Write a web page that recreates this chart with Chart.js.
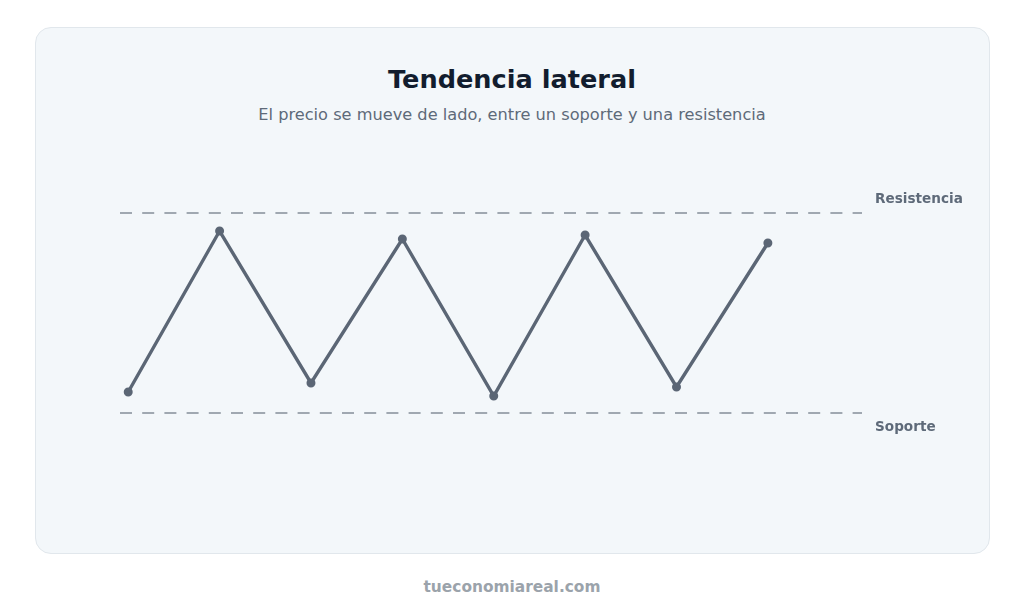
<!DOCTYPE html>
<html lang="es">
<head>
<meta charset="utf-8">
<title>Tendencia lateral</title>
<script src="https://cdn.jsdelivr.net/npm/chart.js@4"></script>
<style>
    html, body { margin: 0; padding: 0; background: #ffffff; font-family: "DejaVu Sans", sans-serif; }
    .card {
        position: absolute; left: 35px; top: 27px; width: 955px; height: 527px;
        box-sizing: border-box; border: 1px solid #e1e7ec; border-radius: 16px;
        background: #f3f7fa;
    }
    .title {
        position: absolute; left: 0; width: 1024px; top: 64px; margin: 0;
        text-align: center; font-size: 25.6px; font-weight: bold; color: #121d2e;
    }
    .subtitle {
        position: absolute; left: 0; width: 1024px; top: 105px; margin: 0;
        text-align: center; font-size: 16.2px; color: #5e6a79;
    }
    .footer {
        position: absolute; left: 0; width: 1024px; top: 578px; margin: 0;
        text-align: center; font-size: 15.4px; font-weight: bold; color: #9ba3ab;
    }
    .chart-box { position: absolute; left: 120px; top: 163px; width: 860px; height: 300px; }
</style>
</head>
<body>
<div class="card"></div>
<h1 class="title">Tendencia lateral</h1>
<p class="subtitle">El precio se mueve de lado, entre un soporte y una resistencia</p>
<div class="chart-box"><canvas id="rangeChart"></canvas></div>
<p class="footer">tueconomiareal.com</p>

<script>
// --- Data ---
const steps = [0, 1, 2, 3, 4, 5, 6, 7];
const prices = [102.1, 118.2, 103.0, 117.4, 101.7, 117.8, 102.6, 117.0];

const supportLevel = 100;
const resistanceLevel = 120;
const levelSpan = [-0.09, 8.03];   // x range covered by the dashed levels
const levelLabels = ['Soporte', 'Resistencia'];

// --- Level labels drawn next to the dashed lines ---
const levelLabelPlugin = {
    id: 'levelLabels',
    afterDatasetsDraw(chart) {
        const { ctx, chartArea, scales } = chart;
        ctx.save();
        ctx.font = 'bold 13.6px "DejaVu Sans", sans-serif';
        ctx.fillStyle = '#5e6a79';
        ctx.textBaseline = 'middle';
        ctx.textAlign = 'left';
        const x = chartArea.right + 13;
        ctx.fillText(levelLabels[1], x, scales.y.getPixelForValue(resistanceLevel) - 14);
        ctx.fillText(levelLabels[0], x, scales.y.getPixelForValue(supportLevel) + 14);
        ctx.restore();
    }
};

const dashedLevel = (value) => ({
    data: levelSpan.map(x => ({ x, y: value })),
    borderColor: '#a0a8b1',
    borderWidth: 2,
    borderDash: [12, 10.2],
    pointRadius: 0,
    fill: false,
    clip: false,
    order: 2
});

const init = () => {
    const ctx = document.getElementById('rangeChart');

    new Chart(ctx, {
        type: 'line',
        data: {
            datasets: [
                {
                    data: steps.map((s, i) => ({ x: s, y: prices[i] })),
                    borderColor: '#5b6675',
                    backgroundColor: '#5b6675',
                    borderWidth: 3.4,
                    pointRadius: 2.8,
                    pointHoverRadius: 2.8,
                    tension: 0,
                    fill: false,
                    clip: false,
                    order: 1
                },
                dashedLevel(resistanceLevel),
                dashedLevel(supportLevel)
            ]
        },
        options: {
            responsive: true,
            maintainAspectRatio: false,
            animation: false,
            layout: { autoPadding: false, padding: { left: 0, right: 118, top: 0, bottom: 0 } },
            scales: {
                x: { type: 'linear', min: levelSpan[0], max: levelSpan[1], display: false },
                y: { min: 95, max: 125, display: false }
            },
            plugins: { legend: { display: false }, tooltip: { enabled: false } }
        },
        plugins: [levelLabelPlugin]
    });
};

document.addEventListener('DOMContentLoaded', init);
</script>
</body>
</html>
